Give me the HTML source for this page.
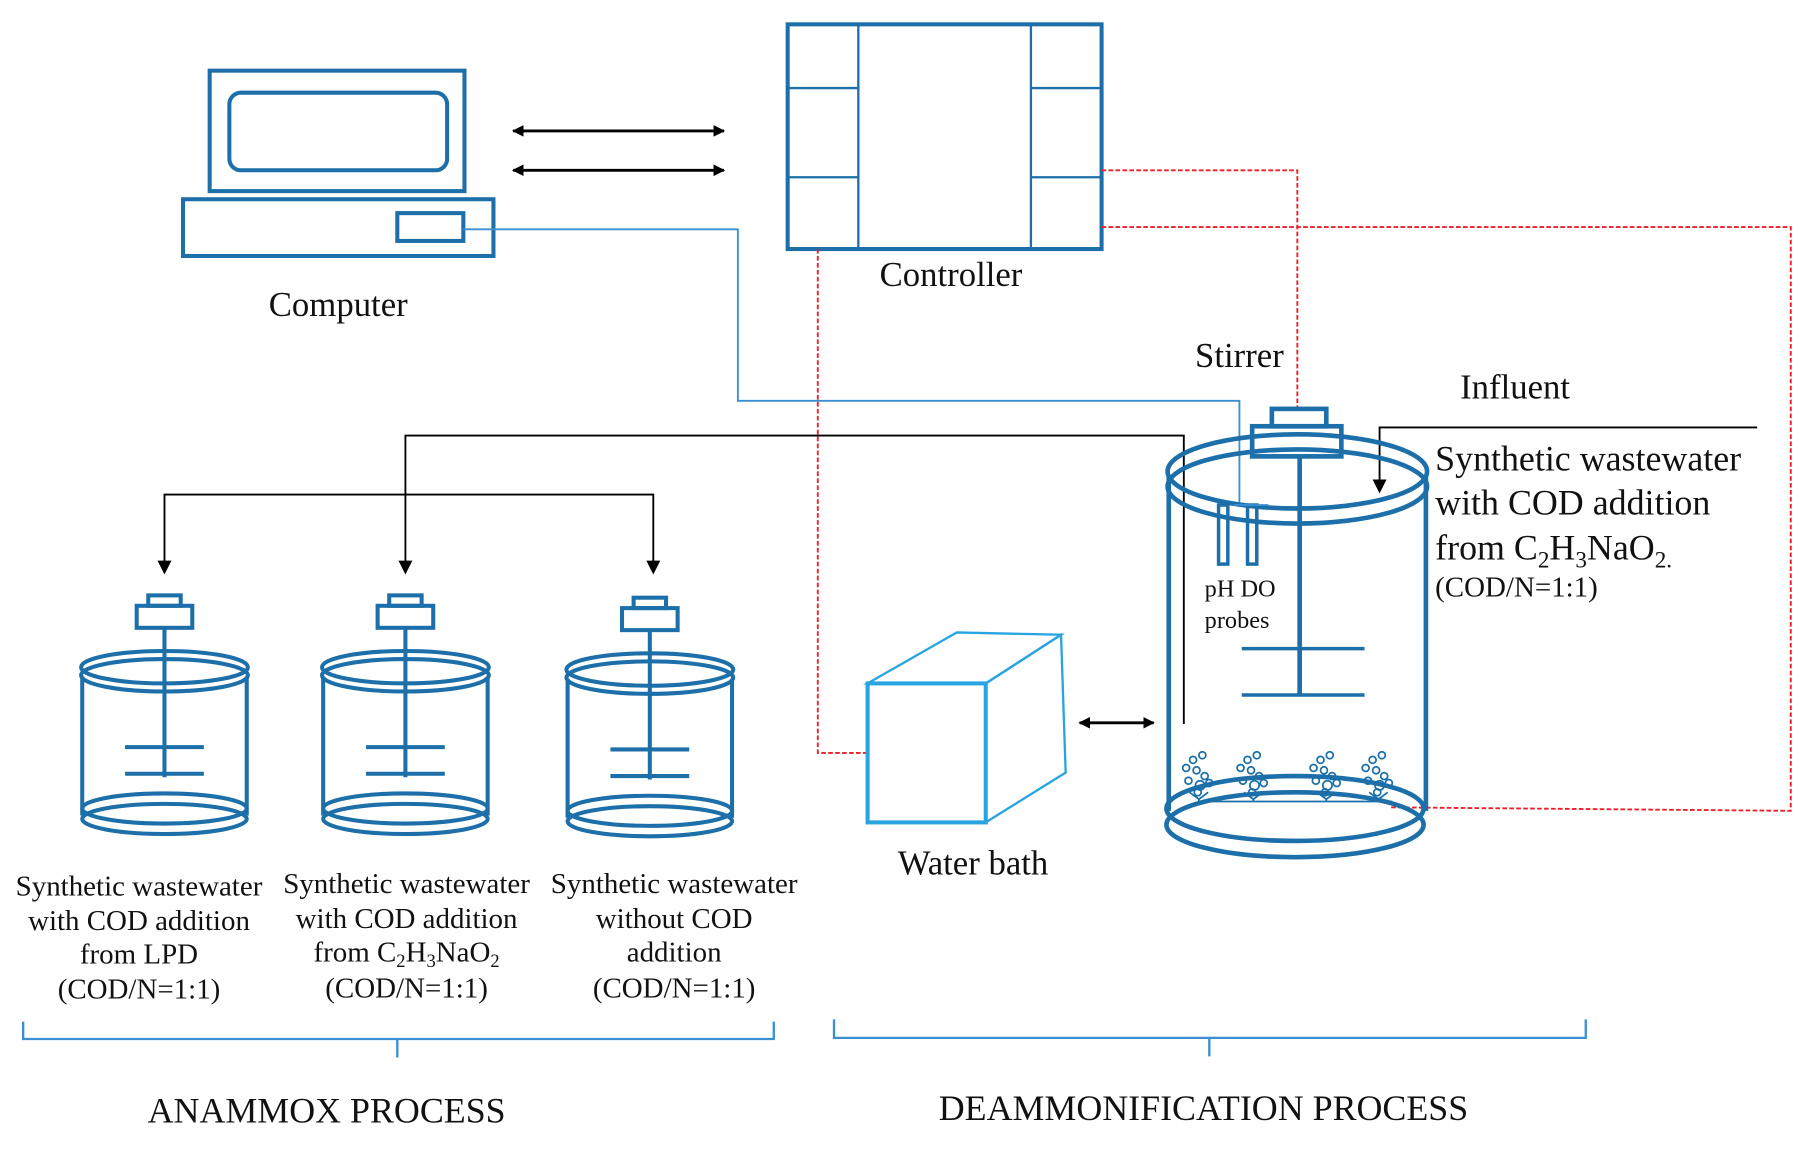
<!DOCTYPE html>
<html><head><meta charset="utf-8"><style>
html,body{margin:0;padding:0;background:#fff;}
svg{display:block;}
text{font-family:"Liberation Serif",serif;fill:#111;}
</style></head><body>
<svg width="1807" height="1156" viewBox="0 0 1560 998" preserveAspectRatio="none" xmlns="http://www.w3.org/2000/svg">
<defs>
<marker id="ah" markerWidth="10" markerHeight="10" refX="9" refY="5" orient="auto-start-reverse" markerUnits="userSpaceOnUse"><path d="M0,0 L10,5 L0,10 z" fill="#000"/></marker>
<g id="small" fill="none" stroke="#1c6fa8" stroke-width="3.5">
<rect x="-14" y="-62" width="28" height="9"/>
<rect x="-24" y="-53" width="48" height="19"/>
<line x1="0" y1="-34" x2="0" y2="95"/>
<line x1="-34" y1="69" x2="34" y2="69"/>
<line x1="-34" y1="92" x2="34" y2="92"/>
<ellipse cx="0" cy="0" rx="72" ry="14"/>
<ellipse cx="0" cy="7" rx="72" ry="14"/>
<line x1="-71" y1="8" x2="-71" y2="128"/>
<line x1="71" y1="8" x2="71" y2="128"/>
<ellipse cx="0" cy="122" rx="71" ry="13"/>
<ellipse cx="0" cy="131" rx="71" ry="13"/>
</g>
</defs>

<!-- Computer -->
<g fill="none" stroke="#1c6fa8" stroke-width="3.5">
<rect x="181" y="61" width="220" height="104"/>
<rect x="198" y="80" width="188" height="67" rx="10"/>
<rect x="158" y="172" width="268" height="49"/>
<rect x="343" y="184" width="57" height="24"/>
</g>
<text x="292" y="273" font-size="30" text-anchor="middle">Computer</text>

<!-- Controller -->
<g fill="none" stroke="#1c6fa8">
<rect x="680" y="21" width="271" height="194" stroke-width="3.5"/>
<line x1="741" y1="21" x2="741" y2="215" stroke-width="2"/>
<line x1="890" y1="21" x2="890" y2="215" stroke-width="2"/>
<line x1="680" y1="76" x2="741" y2="76" stroke-width="2"/>
<line x1="680" y1="153" x2="741" y2="153" stroke-width="2"/>
<line x1="890" y1="76" x2="951" y2="76" stroke-width="2"/>
<line x1="890" y1="153" x2="951" y2="153" stroke-width="2"/>
</g>
<text x="821" y="247" font-size="30" text-anchor="middle">Controller</text>

<!-- double arrows -->
<g stroke="#000" stroke-width="2.5" marker-start="url(#ah)" marker-end="url(#ah)">
<line x1="443" y1="113" x2="625" y2="113"/>
<line x1="443" y1="147" x2="625" y2="147"/>
<line x1="932" y1="624" x2="996" y2="624"/>
</g>

<!-- blue wire computer -> probe -->
<polyline points="400,198 637,198 637,346 1070,346 1070,436" fill="none" stroke="#3a8fd0" stroke-width="1.6"/>

<!-- red dashed -->
<g fill="none" stroke="#e8202a" stroke-width="1.6" stroke-dasharray="4,2">
<polyline points="951,147 1120,147 1120,352"/>
<polyline points="951,196 1546,196 1546,700 1200,697"/>
<polyline points="706,215 706,650 749,650"/>
</g>

<!-- black feed lines -->
<g fill="none" stroke="#000" stroke-width="1.6">
<polyline points="1022,625 1022,376 350,376 350,488"/>
<polyline points="142,488 142,427 564,427 564,488"/>
<polyline points="1517,369 1191,369 1191,418"/>
</g>
<g fill="#000">
<path d="M136,484 h12 l-6,12z"/><path d="M344,484 h12 l-6,12z"/><path d="M558,484 h12 l-6,12z"/><path d="M1185,414 h12 l-6,12z"/>
</g>

<!-- small reactors -->
<use href="#small" x="142" y="576"/>
<use href="#small" x="350" y="576"/>
<use href="#small" x="561" y="578"/>

<!-- Water bath -->
<g fill="none" stroke="#29a4e0" stroke-width="2">
<polygon points="749,590 826,546 916,548 851,590"/>
<polygon points="851,590 916,548 920,667 851,710"/>
<rect x="749" y="590" width="102" height="120" stroke-width="3.5"/>
</g>
<text x="840" y="755" font-size="30" text-anchor="middle">Water bath</text>

<!-- Big reactor -->
<g fill="none" stroke="#1c6fa8" stroke-width="4">
<rect x="1098" y="353" width="47" height="15"/>
<rect x="1081" y="368" width="77" height="26"/>
<line x1="1122" y1="394" x2="1122" y2="600"/>
<line x1="1072" y1="560" x2="1178" y2="560" stroke-width="3"/>
<line x1="1072" y1="600" x2="1178" y2="600" stroke-width="3"/>
<ellipse cx="1120" cy="407" rx="112" ry="32"/>
<ellipse cx="1120" cy="420" rx="112" ry="32"/>
<line x1="1009" y1="412" x2="1009" y2="700"/>
<line x1="1231" y1="412" x2="1231" y2="700"/>
<ellipse cx="1118" cy="698" rx="111" ry="28"/>
<ellipse cx="1118" cy="712" rx="111" ry="28"/>
<rect x="1052" y="436" width="8" height="51" stroke-width="3"/>
<rect x="1077" y="436" width="8" height="51" stroke-width="3"/>
</g>
<line x1="1065" y1="436" x2="1095" y2="436" stroke="#3a8fd0" stroke-width="1.5"/>
<g fill="none" stroke="#1c6fa8" stroke-width="1.5">
<line x1="1035" y1="692" x2="1202" y2="692"/>
<g id="bub"><circle cx="1030" cy="656" r="3"/><circle cx="1038" cy="652" r="3"/><circle cx="1024" cy="663" r="3"/><circle cx="1033" cy="665" r="3"/><circle cx="1040" cy="670" r="3"/><circle cx="1026" cy="674" r="3"/><circle cx="1036" cy="678" r="4"/><circle cx="1044" cy="676" r="3"/><circle cx="1034" cy="684" r="3"/><path d="M1027,684 L1035,690 L1043,684 M1035,690 V692"/></g>
<use href="#bub" x="47"/><use href="#bub" x="110"/><use href="#bub" x="155"/>
</g>
<text x="1040" y="515" font-size="21">pH  DO</text>
<text x="1040" y="542" font-size="21">probes</text>
<text x="1070" y="317" font-size="30" text-anchor="middle">Stirrer</text>
<text x="1308" y="344" font-size="30" text-anchor="middle">Influent</text>
<text x="1239" y="406" font-size="31">Synthetic wastewater</text>
<text x="1239" y="444" font-size="31">with COD addition</text>
<text x="1239" y="483" font-size="31">from C<tspan font-size="20" dy="7">2</tspan><tspan dy="-7">H</tspan><tspan font-size="20" dy="7">3</tspan><tspan dy="-7">NaO</tspan><tspan font-size="20" dy="7">2.</tspan></text>
<text x="1239" y="515" font-size="25">(COD/N=1:1)</text>

<!-- bottom labels -->
<g font-size="25" text-anchor="middle">
<text x="120" y="773">Synthetic wastewater</text>
<text x="120" y="803">with COD addition</text>
<text x="120" y="832">from LPD</text>
<text x="120" y="862">(COD/N=1:1)</text>
<text x="351" y="771">Synthetic wastewater</text>
<text x="351" y="801">with COD addition</text>
<text x="351" y="830">from C<tspan font-size="16" dy="5">2</tspan><tspan dy="-5">H</tspan><tspan font-size="16" dy="5">3</tspan><tspan dy="-5">NaO</tspan><tspan font-size="16" dy="5">2</tspan></text>
<text x="351" y="861">(COD/N=1:1)</text>
<text x="582" y="771">Synthetic wastewater</text>
<text x="582" y="801">without COD</text>
<text x="582" y="830">addition</text>
<text x="582" y="861">(COD/N=1:1)</text>
</g>

<!-- braces -->
<g fill="none" stroke="#3a8fd0" stroke-width="2">
<path d="M20,882 V897 H668 V882 M343,897 V913"/>
<path d="M720,880 V896 H1369 V880 M1044,896 V912"/>
</g>
<text x="282" y="969" font-size="31" text-anchor="middle">ANAMMOX PROCESS</text>
<text x="1039" y="967" font-size="31" text-anchor="middle">DEAMMONIFICATION PROCESS</text>
</svg>
</body></html>
